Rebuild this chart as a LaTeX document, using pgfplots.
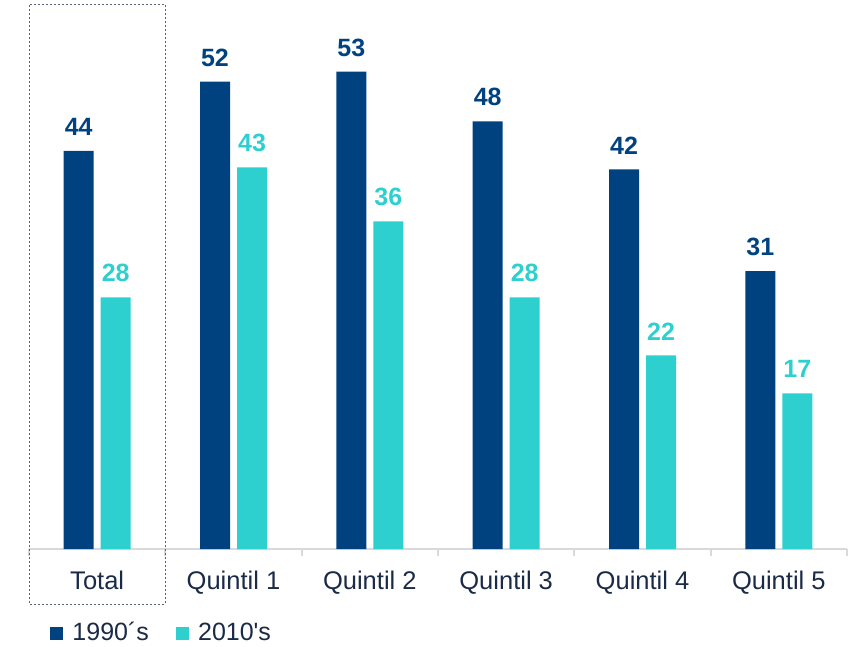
\documentclass[border=0pt]{standalone}
\usepackage{pgfplots}
\pgfplotsset{compat=1.18}
\usepackage{fontspec}
\setmainfont{Liberation Sans}
\definecolor{dblue}{RGB}{0,66,127}
\definecolor{cyanb}{RGB}{46,207,207}
\definecolor{navy}{RGB}{27,42,71}
\definecolor{axgray}{RGB}{217,217,217}
\definecolor{boxgray}{RGB}{90,100,120}
\begin{document}
\begin{tikzpicture}
\path[use as bounding box] (-17.4pt,-58.2pt) rectangle (492.6pt,329.4pt);
\begin{axis}[
  at={(0,0)}, anchor=south west,
  scale only axis, width=490.8pt, height=326.4pt,
  xmin=-0.5, xmax=5.5, ymin=0, ymax=60.78,
  /pgf/number format/assume math mode=true,
  axis y line=none,
  axis x line*=bottom,
  x axis line style={draw=axgray, line width=1.2pt, -},
  xtick={0,1,2,3,4,5},
  xticklabels={Total,Quintil 1,Quintil 2,Quintil 3,Quintil 4,Quintil 5},
  major tick length=0pt,
  minor xtick={-0.5,0.5,1.5,2.5,3.5,4.5,5.5},
  minor tick length=4.2pt,
  tick align=outside,
  minor tick style={draw=axgray, line width=1.2pt},
  xticklabel style={font=\fontsize{15.3}{18}\selectfont, text=navy, yshift=-9.6pt},
  ybar, bar width=18pt,
  clip=false,
  point meta=explicit symbolic,
  nodes near coords,
  every node near coord/.append style={font=\fontsize{15}{18}\selectfont\bfseries, anchor=center, yshift=14.4pt},
  legend style={at={(axis description cs:0,0)}, anchor=west, xshift=12.4pt, yshift=-50.4pt, draw=none, font=\fontsize{15}{18}\selectfont, text=navy, inner sep=0pt},
  legend columns=2,
  legend image code/.code={\fill[#1] (0pt,-3.9pt) rectangle (7.8pt,3.9pt); \path (11.5pt,0);},
  /tikz/every even column/.append style={column sep=14pt},
]
\addplot[fill=dblue, draw=none, bar shift=-11.1pt, every node near coord/.append style={text=dblue}] coordinates {(0,44.47)[44] (1,52.21)[52] (2,53.33)[53] (3,47.79)[48] (4,42.42)[42] (5,31.05)[31]};
\addplot[fill=cyanb, draw=none, bar shift=11.1pt, every node near coord/.append style={text=cyanb}] coordinates {(0,28.12)[28] (1,42.65)[43] (2,36.61)[36] (3,28.12)[28] (4,21.64)[22] (5,17.40)[17]};
\legend{1990´s,2010\textquotesingle s}
\draw[boxgray, line width=0.6pt, dash pattern=on 1.2pt off 1.2pt] (axis cs:-0.5,60.78) rectangle ([yshift=-33pt]axis cs:0.5,0);
\end{axis}
\end{tikzpicture}
\end{document}
